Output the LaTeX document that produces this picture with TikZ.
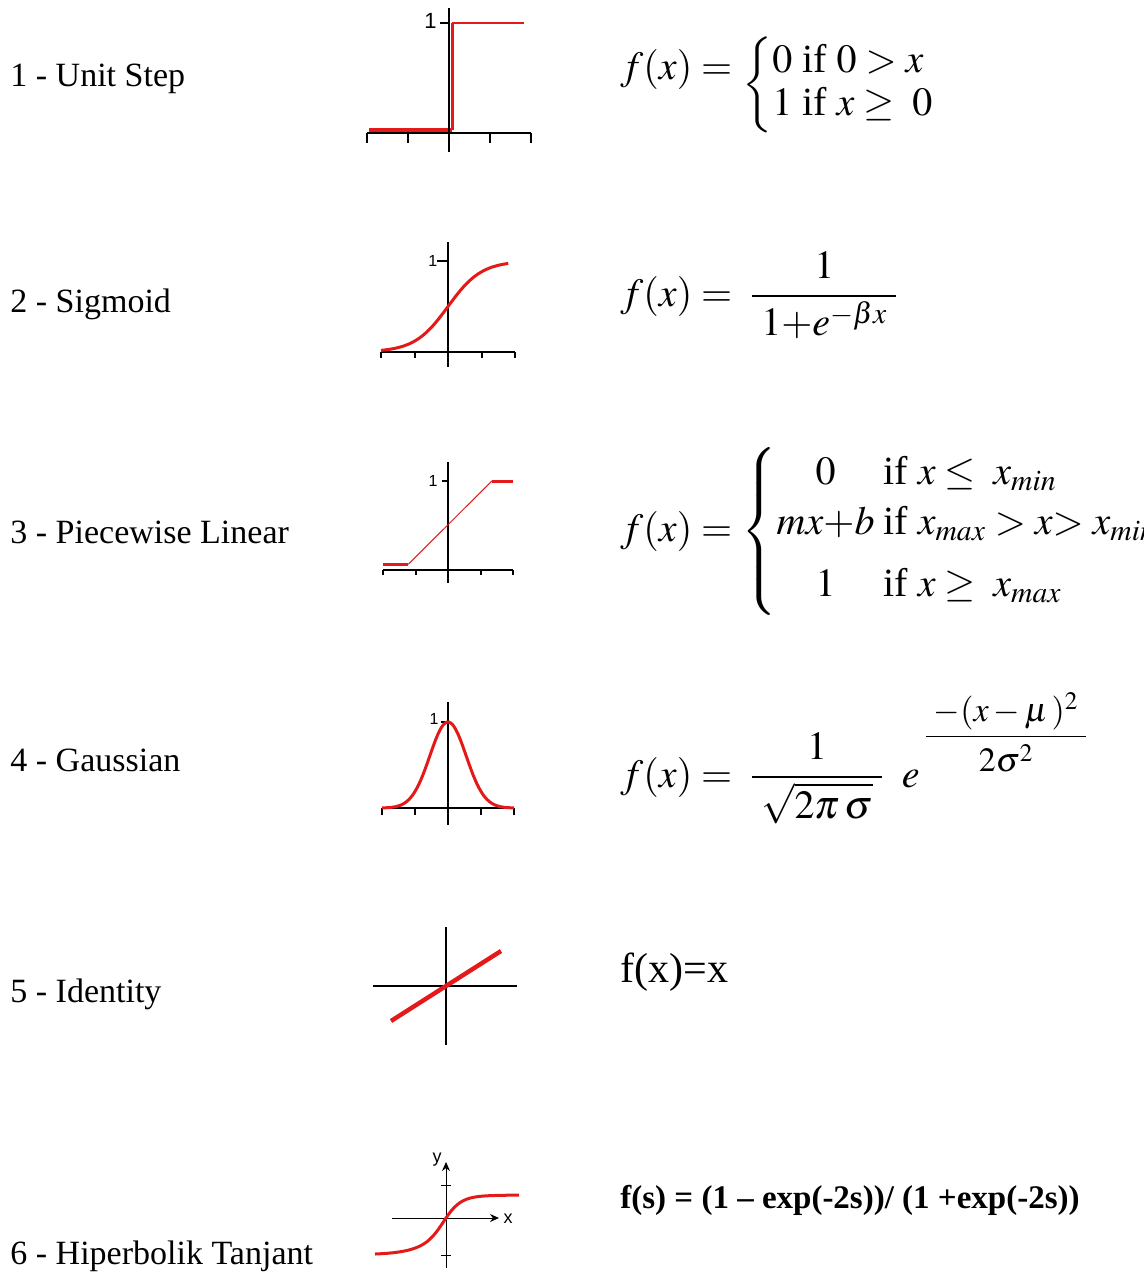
\documentclass[tikz,border=0pt]{standalone}
\usepackage{amsmath}
\usepackage{mathptmx}
\usepackage{fontspec}
\setmainfont{Liberation Serif}
\setsansfont{Liberation Sans}
\usetikzlibrary{arrows.meta}
\definecolor{curvered}{RGB}{228,26,26}

\begin{document}
\begin{tikzpicture}[x=0.5pt, y=-0.5pt,
      fnlabel/.style={anchor=base west, inner sep=0pt, font=\fontsize{17}{20}\selectfont},
      eqn/.style={anchor=base west, inner sep=0pt, font=\fontsize{20}{24}\selectfont},
      axisline/.style={line width=1pt},
      redline/.style={curvered, line width=1.5pt},
      onelabel/.style={inner sep=0pt, font=\sffamily\fontsize{8}{8}\selectfont}]
    \useasboundingbox (0,0) rectangle (1144,1274);

    % names of the functions
    \node[fnlabel] (nstep) at (10,86) {1 - Unit Step};
    \node[fnlabel] (nsig)  at (10,312) {2 - Sigmoid};
    \node[fnlabel] (npw)   at (10,543) {3 - Piecewise Linear};
    \node[fnlabel] (ngau)  at (10,771) {4 - Gaussian};
    \node[fnlabel] (nid)   at (10,1002) {5 - Identity};
    \node[fnlabel] (ntanh) at (10,1264) {6 - Hiperbolik Tanjant};

    % 1 - unit step
    \begin{scope}[shift={(449,133)}, x=20.5pt, y=55pt]
      \draw[redline, line width=2pt] (-1.95,0.03) -- (0.08,0.03);
      \draw[axisline] (-2,0) -- (2,0);
      \foreach \t in {-2,-1,1,2} \draw[axisline] (\t,0) -- (\t,-0.09);
      \draw[axisline] (0,1.14) -- (0,-0.17);
      \draw[axisline] (-0.22,1) -- (0,1);
      \node[onelabel, font=\sffamily\fontsize{11}{11}\selectfont] (ostep) at (-0.45,1.02) {1};
      \draw[redline] (0.08,0.03) -- (0.08,1);
      \draw[redline, line width=1pt] (0.08,1) -- (1.83,1);
    \end{scope}

    % 2 - sigmoid
    \begin{scope}[shift={(448,352)}, x=16.75pt, y=45.5pt]
      \draw[axisline] (-2,0) -- (2,0);
      \foreach \t in {-2,-1,1,2} \draw[axisline] (\t,0) -- (\t,-0.066);
      \draw[axisline] (0,1.21) -- (0,-0.16);
      \draw[axisline] (-0.33,1) -- (0,1);
      \node[onelabel] (osig) at (-0.45,1) {1};
      \draw[redline] plot[domain=-2:1.8, samples=60] (\x,{1/(1+exp(-2*\x))});
    \end{scope}

    % 3 - piecewise linear
    \begin{scope}[shift={(448,570)}, x=16.25pt, y=44.5pt]
      \draw[axisline] (-2,0) -- (2,0);
      \foreach \t in {-2,-1,1,2} \draw[axisline] (\t,0) -- (\t,-0.056);
      \draw[axisline] (0,1.21) -- (0,-0.15);
      \draw[axisline] (-0.2,1) -- (0,1);
      \node[onelabel] (opw) at (-0.46,1) {1};
      \draw[redline] (-2,0.065) -- (-1.22,0.065);
      \draw[redline, line width=0.5pt] (-1.22,0.065) -- (1.35,1);
      \draw[redline] (1.35,1) -- (2,1);
    \end{scope}

    % 4 - gaussian
    \begin{scope}[shift={(448,808)}, x=16.5pt, y=43pt]
      \draw[axisline] (-2,0) -- (2,0);
      \foreach \t in {-2,-1,1,2} \draw[axisline] (\t,0) -- (\t,-0.08);
      \draw[axisline] (0,1.23) -- (0,-0.2);
      \draw[axisline] (-0.2,1) -- (0,1);
      \node[onelabel] (ogau) at (-0.42,1.04) {1};
      \draw[redline] plot[domain=-2:2, samples=80] (\x,{exp(-1.65*\x*\x)});
    \end{scope}

    % 5 - identity
    \draw[line width=0.7pt] (446,927) -- (446,1045);
    \draw[line width=0.7pt] (373,986) -- (517,986);
    \draw[curvered, line width=2.2pt] (391,1021) -- (501,951);

    % 6 - tanh
    \draw[line width=0.5pt, -{Stealth[length=4.5pt, width=4pt]}] (446,1268) -- (446,1162);
    \draw[line width=0.5pt, -{Stealth[length=4.5pt, width=4pt]}] (392,1218) -- (499,1218);
    \draw[line width=0.5pt] (441,1185) -- (451,1185);
    \draw[line width=0.5pt] (441,1255) -- (451,1255);
    \node[onelabel, font=\sffamily\fontsize{9}{9}\selectfont] (oy) at (437,1160) {y};
    \node[onelabel, font=\sffamily\fontsize{9}{9}\selectfont] (ox) at (508,1219) {x};
    \draw[curvered, line width=1.5pt] (375,1254) .. controls (425,1252) and (430,1242) .. (446,1218)
      .. controls (462,1194) and (472,1196) .. (519,1195);

    % formulas
    \node[eqn] (fstep) at (620,95)
      {\raisebox{8pt}{$f(x) =$} ${\renewcommand{\arraystretch}{0.9}\left\{\begin{array}{@{}l@{}}
        0 \text{ if } 0 > x\\ 1 \text{ if } x \geq \;0\end{array}\right.}$};
    \node[eqn] (fsig) at (620,306)
      {$f(x) = \;\dfrac{1}{\;1{+}e^{-\beta x}\;}$};
    \node[eqn] (fpw) at (620,541)
      {$f(x) = \left\{\begin{array}{@{}c@{\;}l@{}}
        0 & \text{if } x \leq \; x_{min}\\[1pt]
        mx{+}b & \text{if } x_{max} > x{>}\; x_{min}\\[7pt]
        1 & \text{if } x \geq \; x_{max}
      \end{array}\right.$};
    \node[eqn] (fgau) at (620,787)
      {$f(x) = \;\dfrac{1}{\;\sqrt{2\pi\,\sigma}\;}\;\; e\,\raisebox{21pt}{\fontsize{17}{20}\selectfont
        $\dfrac{\;-(x-\mu\,)^2\;}{\rule{0pt}{15pt}2\sigma^2}$}$};
    \node[anchor=base west, inner sep=0pt, font=\fontsize{21}{24}\selectfont] (fid) at (620,982) {f(x)=x};
    \node[anchor=base west, inner sep=0pt, font=\bfseries\fontsize{16.5}{20}\selectfont] (ftanh) at (620,1208)
      {f(s) = (1 – exp(-2s))/ (1 +exp(-2s))};
  \end{tikzpicture}
\end{document}
